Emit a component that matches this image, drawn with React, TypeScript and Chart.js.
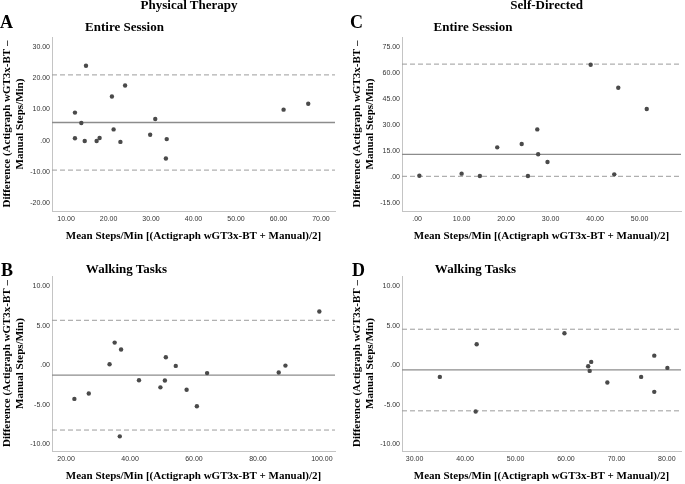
import React, { useEffect, useRef } from 'react';
import { Chart, registerables } from 'chart.js';

Chart.register(...registerables);

const W = 685;
const H = 484;
const Y_W = 52; // y axis box width
const X_H = 32; // x axis box height

const X_TITLE = 'Mean Steps/Min [(Actigraph wGT3x-BT + Manual)/2]';
const Y_TITLE = ['Difference (Actigraph wGT3x-BT –', 'Manual Steps/Min)'];

// ---------- Panel A: Physical Therapy – Entire Session ----------
const aMeanSteps = [12.1, 12.1, 13.6, 14.7, 14.4, 17.2, 17.9, 20.8, 21.2, 23.9, 22.8, 29.8, 31.0, 33.7, 33.5, 61.2, 67.0];
const aDifference = [8.96, 0.75, 5.66, 23.9, -0.1, -0.1, 0.85, 14.1, 3.6, 17.6, -0.4, 1.9, 6.9, 0.5, -5.7, 9.9, 11.8];
const aLines = [21.0, 5.8, -9.4]; // upper limit, mean bias, lower limit
const aXTicks = [10, 20, 30, 40, 50, 60, 70];
const aYTicks = [-20, -10, 0, 10, 20, 30];
const aXRange = [6.7, 73.3];
const aYRange = [-22.46, 33.1];

// ---------- Panel B: Physical Therapy – Walking Tasks ----------
const bMeanSteps = [22.6, 27.1, 33.6, 35.2, 37.2, 36.8, 42.8, 49.5, 50.9, 51.2, 54.3, 57.7, 60.9, 64.1, 86.5, 88.6, 99.2];
const bDifference = [-4.26, -3.58, 0.12, 2.86, 1.98, -9.0, -1.9, -2.8, -1.94, 1.0, -0.09, -3.1, -5.2, -1.0, -0.93, -0.05, 6.8];
const bLines = [5.68, -1.26, -8.2];
const bXTicks = [20, 40, 60, 80, 100];
const bYTicks = [-10, -5, 0, 5, 10];
const bXRange = [15.6, 104.1];
const bYRange = [-10.85, 11.28];

// ---------- Panel C: Self-Directed – Entire Session ----------
const cMeanSteps = [0.5, 10.0, 14.1, 18.0, 23.5, 24.9, 27.0, 27.2, 29.3, 39.0, 44.3, 45.2, 51.6];
const cDifference = [0.9, 2.1, 0.75, 17.2, 19.1, 0.75, 27.5, 13.2, 8.8, 64.6, 1.7, 51.4, 39.2];
const cLines = [65.0, 13.2, 0.57];
const cXTicks = [0, 10, 20, 30, 40, 50];
const cYTicks = [-15, 0, 15, 30, 45, 60, 75];
const cXRange = [-3.4, 59.3];
const cYRange = [-19.36, 80.57];

// ---------- Panel D: Self-Directed – Walking Tasks ----------
const dMeanSteps = [35.0, 42.3, 42.1, 59.7, 64.4, 65.0, 64.7, 68.2, 74.9, 77.5, 77.5, 80.1];
const dDifference = [-1.48, 2.65, -5.86, 4.04, -0.13, 0.42, -0.72, -2.19, -1.48, 1.21, -3.37, -0.34];
const dLines = [4.55, -0.59, -5.77];
const dXTicks = [30, 40, 50, 60, 70, 80];
const dYTicks = [-10, -5, 0, 5, 10];
const dXRange = [27.5, 82.8];
const dYRange = [-10.85, 11.28];

const fmt = (v: number) => (Math.abs(v) < 1e-9 ? '.00' : Number(v).toFixed(2));

type PanelProps = {
  area: number[]; // left, top, right, bottom of plot area
  xs: number[];
  ys: number[];
  lines: number[];
  xTicks: number[];
  yTicks: number[];
  xRange: number[];
  yRange: number[];
};

function Panel({ area, xs, ys, lines, xTicks, yTicks, xRange, yRange }: PanelProps) {
  const ref = useRef<HTMLCanvasElement>(null);
  useEffect(() => {
    const canvas = ref.current;
    if (!canvas) return;
    const [l, t, r, b] = area;
    const tickFont = { family: '"Liberation Sans", Arial, sans-serif', size: 7 };
    const titleFont = { family: '"Liberation Serif", "Times New Roman", serif', size: 11, weight: 'bold' as const, lineHeight: 1.25 };
    const chart = new Chart(canvas, {
      type: 'scatter',
      data: {
        datasets: [
          {
            type: 'scatter',
            data: xs.map((x, i) => ({ x, y: ys[i] })),
            backgroundColor: '#4a4a4a',
            borderWidth: 0,
            pointRadius: 2.2,
            order: 0,
          } as any,
          ...lines.map((v, i) => ({
            type: 'line',
            data: [
              { x: xRange[0], y: v },
              { x: xRange[1], y: v },
            ],
            borderColor: i === 1 ? '#8c8c8c' : '#9c9c9c',
            borderWidth: i === 1 ? 1.3 : 1,
            borderDash: i === 1 ? [] : [5, 3],
            pointRadius: 0,
            fill: false,
            order: 1,
          })),
        ],
      },
      options: {
        responsive: false,
        animation: false,
        devicePixelRatio: 1,
        layout: { padding: { left: l - Y_W, top: t, right: W - r, bottom: H - b - X_H } },
        plugins: { legend: { display: false }, tooltip: { enabled: false }, title: { display: false } },
        scales: {
          x: {
            type: 'linear',
            min: xRange[0],
            max: xRange[1],
            grid: { display: false, drawTicks: false },
            border: { display: true, color: '#c4c4c4', width: 1 },
            ticks: { padding: 4, font: tickFont, color: '#333', maxRotation: 0, autoSkip: false, callback: (v: any) => fmt(Number(v)) },
            afterBuildTicks: (s: any) => {
              s.ticks = xTicks.map((v) => ({ value: v }));
            },
            afterFit: (s: any) => {
              s.height = X_H;
            },
            title: { display: true, text: X_TITLE, font: { ...titleFont, lineHeight: 1.2 }, color: '#000', padding: { top: 0, bottom: 0 } },
          },
          y: {
            type: 'linear',
            min: yRange[0],
            max: yRange[1],
            grid: { display: false, drawTicks: false },
            border: { display: true, color: '#c4c4c4', width: 1 },
            ticks: { padding: 2, font: tickFont, color: '#333', autoSkip: false, callback: (v: any) => fmt(Number(v)) },
            afterBuildTicks: (s: any) => {
              s.ticks = yTicks.map((v) => ({ value: v }));
            },
            afterFit: (s: any) => {
              s.width = Y_W;
            },
            title: { display: true, text: Y_TITLE, font: titleFont, color: '#000', padding: { top: 0, bottom: 0 } },
          },
        },
      } as any,
    });
    return () => chart.destroy();
  }, []);
  return (
    <canvas
      ref={ref}
      width={W}
      height={H}
      style={{ position: 'absolute', left: 0, top: 0, width: W, height: H }}
    />
  );
}

function Label({ text, cx, left, top, size }: { text: string; cx?: number; left?: number; top: number; size: number }) {
  const style: React.CSSProperties = {
    position: 'absolute',
    top,
    font: `bold ${size}px "Liberation Serif", "Times New Roman", serif`,
    lineHeight: 1,
    whiteSpace: 'nowrap',
    color: '#000',
  };
  if (cx !== undefined) {
    style.left = cx;
    style.transform = 'translateX(-50%)';
  } else {
    style.left = left;
  }
  return <div style={style}>{text}</div>;
}

export default function App() {
  return (
    <div style={{ position: 'absolute', left: 0, top: 0, width: W, height: H, background: '#fff', overflow: 'hidden' }}>
      <Panel area={[52, 37, 335, 211]} xs={aMeanSteps} ys={aDifference} lines={aLines} xTicks={aXTicks} yTicks={aYTicks} xRange={aXRange} yRange={aYRange} />
      <Panel area={[52, 276, 335, 451]} xs={bMeanSteps} ys={bDifference} lines={bLines} xTicks={bXTicks} yTicks={bYTicks} xRange={bXRange} yRange={bYRange} />
      <Panel area={[402, 37, 685, 211]} xs={cMeanSteps} ys={cDifference} lines={cLines} xTicks={cXTicks} yTicks={cYTicks} xRange={cXRange} yRange={cYRange} />
      <Panel area={[402, 276, 685, 451]} xs={dMeanSteps} ys={dDifference} lines={dLines} xTicks={dXTicks} yTicks={dYTicks} xRange={dXRange} yRange={dYRange} />
      <Label text="Physical Therapy" cx={189} top={-2.5} size={13} />
      <Label text="Self-Directed" cx={546.7} top={-2.5} size={13} />
      <Label text="A" left={0} top={12.5} size={18} />
      <Label text="C" left={350} top={12.5} size={18} />
      <Label text="B" left={1} top={260.5} size={18} />
      <Label text="D" left={352} top={260.5} size={18} />
      <Label text="Entire Session" cx={124.5} top={19.8} size={13} />
      <Label text="Entire Session" cx={473} top={19.8} size={13} />
      <Label text="Walking Tasks" cx={126.5} top={262.4} size={13} />
      <Label text="Walking Tasks" cx={475.5} top={262.4} size={13} />
    </div>
  );
}
